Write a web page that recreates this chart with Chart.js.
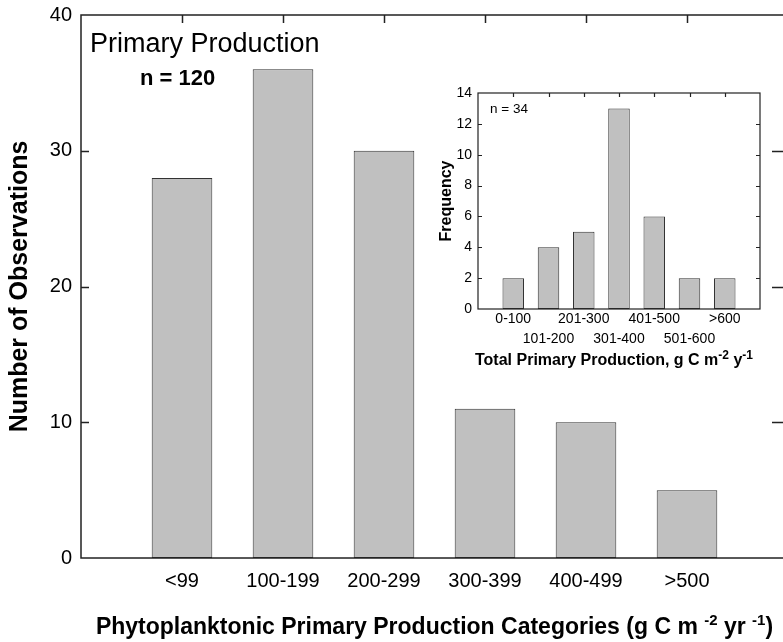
<!DOCTYPE html>
<html><head><meta charset="utf-8">
<script src="https://cdn.jsdelivr.net/npm/chart.js@4.4.0/dist/chart.umd.min.js"></script>
<style>
html,body{margin:0;padding:0;background:#fff;overflow:hidden;width:783px;height:642px;position:relative}
#main{position:absolute;left:0;top:0;}
#inset{position:absolute;left:420px;top:80px;}
</style></head><body>
<canvas id="main" width="788" height="642"></canvas>
<canvas id="inset" width="360" height="300"></canvas>
<script>
// ---- data ----
const mainCategories = ['<99','100-199','200-299','300-399','400-499','>500'];
const mainCounts = [28,36,30,11,10,5];
const mainYTicks = [0,10,20,30,40];
const insetCategories = ['0-100','101-200','201-300','301-400','401-500','501-600','>600'];
const insetCounts = [2,4,5,13,6,2,2];
const insetYTicks = [0,2,4,6,8,10,12,14];
const mainTitle = 'Primary Production';
const mainN = 'n = 120';
const insetN = 'n = 34';
const mainYTitle = 'Number of Observations';
const insetYTitle = 'Frequency';
const mainXTitle = [{t:'Phytoplanktonic Primary Production Categories (g C m '},{t:'-2',sup:true},{t:' yr '},{t:'-1',sup:true},{t:')'}];
const insetXTitle = [{t:'Total Primary Production, g C m'},{t:'-2',sup:true},{t:' y'},{t:'-1',sup:true}];

const FF = "'Liberation Sans', Arial, Helvetica, sans-serif";
Chart.defaults.font.family = FF;
Chart.defaults.color = '#000';

function drawRich(ctx, runs, cx, baseline, font, supFont, rise){
  let w = 0;
  const ws = runs.map(r => { ctx.font = r.sup ? supFont : font; const m = ctx.measureText(r.t).width; w += m; return m; });
  let x = cx - w/2;
  ctx.textAlign = 'left'; ctx.textBaseline = 'alphabetic'; ctx.fillStyle = '#000';
  runs.forEach((r,i) => { ctx.font = r.sup ? supFont : font; ctx.fillText(r.t, x, baseline - (r.sup ? rise : 0)); x += ws[i]; });
}

function framePlugin(id, o){
  return {id, afterDatasetsDraw(chart){
    const {ctx, chartArea:{left,right,top,bottom}, scales:{x,y}} = chart;
    ctx.save();
    ctx.strokeStyle = o.color; ctx.lineWidth = o.lw;
    ctx.strokeRect(left, top, right-left, bottom-top);
    ctx.beginPath();
    y.ticks.forEach(t => {
      if (t.value === y.min || t.value === y.max) return;
      const py = Math.round(y.getPixelForValue(t.value)) + 0.5;
      ctx.moveTo(left, py); ctx.lineTo(left + o.tick, py);
      ctx.moveTo(right, py); ctx.lineTo(right - o.rtick, py);
    });
    x.ticks.forEach(t => {
      const px = Math.round(x.getPixelForValue(t.value)) + 0.5;
      ctx.moveTo(px, top); ctx.lineTo(px, top + o.tick);
    });
    ctx.stroke();
    ctx.restore();
    if (o.after) o.after(chart);
  }};
}

const barStyle = {backgroundColor:'#c0c0c0', borderColor:'#333', borderWidth:1, borderSkipped:false};
const zeroPad = s => { s.paddingTop = 0; s.paddingBottom = 0; s.paddingLeft = 0; s.paddingRight = 0; };

new Chart(document.getElementById('main'), {
  type:'bar',
  data:{datasets:[Object.assign({data: mainCounts.map((v,i)=>({x:i+1, y:v})), barPercentage:0.6, categoryPercentage:1}, barStyle)]},
  options:{
    responsive:false, animation:false,
    layout:{padding:{top:15,left:0,right:0,bottom:0}},
    plugins:{legend:{display:false}, tooltip:{enabled:false}},
    scales:{
      x:{type:'linear', offset:false, min:0, max:mainCategories.length+1,
        afterBuildTicks: s => { s.ticks = mainCategories.map((c,i)=>({value:i+1})); },
        ticks:{callback:(v)=>mainCategories[v-1], autoSkip:false, maxRotation:0, padding:11.5, font:{size:20}, color:'#000'},
        grid:{display:false, drawTicks:false}, border:{display:false},
        afterFit: s => { s.height = 84; zeroPad(s); }
      },
      y:{min:0, max:40,
        afterBuildTicks: s => { s.ticks = mainYTicks.map(v=>({value:v})); },
        ticks:{font:{size:20}, color:'#000', padding:9},
        grid:{display:false, drawTicks:false}, border:{display:false},
        title:{display:true, text:mainYTitle, font:{size:25, weight:'bold'}, color:'#000', padding:{top:5,bottom:0}},
        afterFit: s => { s.width = 81; zeroPad(s); }
      }
    }
  },
  plugins:[framePlugin('mainFrame', {color:'#222', lw:1.5, tick:8, rtick:16, after(chart){
    const ctx = chart.ctx; const ca = chart.chartArea;
    ctx.save();
    ctx.fillStyle = '#000'; ctx.textAlign='left'; ctx.textBaseline='alphabetic';
    ctx.font = "27px " + FF; ctx.fillText(mainTitle, 90, 52);
    ctx.font = "bold 22px " + FF; ctx.fillText(mainN, 140, 85);
    drawRich(ctx, mainXTitle, (ca.left+ca.right)/2, 634, "bold 23px "+FF, "bold 15px "+FF, 9);
    ctx.restore();
  }})]
});

new Chart(document.getElementById('inset'), {
  type:'bar',
  data:{datasets:[Object.assign({data: insetCounts.map((v,i)=>({x:i+1, y:v})), barPercentage:0.61, categoryPercentage:1}, barStyle)]},
  options:{
    responsive:false, animation:false,
    layout:{padding:{top:13,left:0,right:20,bottom:0}},
    plugins:{legend:{display:false}, tooltip:{enabled:false}},
    scales:{
      x:{type:'linear', offset:false, min:0, max:insetCategories.length+1,
        afterBuildTicks: s => { s.ticks = insetCategories.map((c,i)=>({value:i+1})); },
        ticks:{callback:(v)=>{const i=v-1; return i%2===0 ? [insetCategories[i]] : ['', insetCategories[i]];}, autoSkip:false, maxRotation:0, padding:0, font:{size:14, lineHeight:1.43}, color:'#000'},
        grid:{display:false, drawTicks:false}, border:{display:false},
        afterFit: s => { s.height = 71; zeroPad(s); }
      },
      y:{min:0, max:14,
        afterBuildTicks: s => { s.ticks = insetYTicks.map(v=>({value:v})); },
        ticks:{font:{size:14}, color:'#000', padding:6},
        grid:{display:false, drawTicks:false}, border:{display:false},
        title:{display:true, text:insetYTitle, font:{size:16, weight:'bold'}, color:'#000', padding:{top:17,bottom:0}},
        afterFit: s => { s.width = 58; zeroPad(s); }
      }
    }
  },
  plugins:[framePlugin('insetFrame', {color:'#222', lw:1.2, tick:4, rtick:4, after(chart){
    const ctx = chart.ctx; const ca = chart.chartArea;
    ctx.save();
    ctx.fillStyle = '#000'; ctx.textAlign='left'; ctx.textBaseline='alphabetic';
    ctx.font = "13.5px " + FF; ctx.fillText(insetN, 70, 33);
    drawRich(ctx, insetXTitle, (ca.left+ca.right)/2 - 5, 285, "bold 16px "+FF, "bold 12px "+FF, 6);
    ctx.restore();
  }})]
});
</script>
</body></html>
